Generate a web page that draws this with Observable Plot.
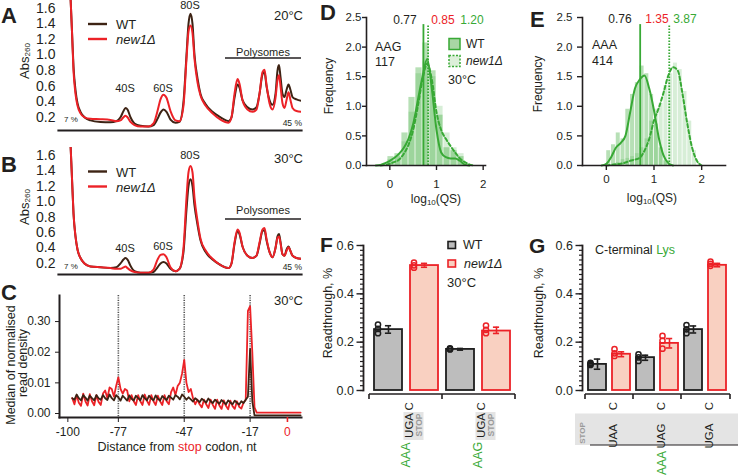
<!DOCTYPE html>
<html><head><meta charset="utf-8">
<script src="https://cdn.jsdelivr.net/npm/d3@7"></script>
<script src="https://cdn.jsdelivr.net/npm/@observablehq/plot@0.6"></script>
<style>
html,body{margin:0;padding:0;background:#fff;}
#fig{position:relative;width:738px;height:476px;overflow:hidden;background:#fff;}
</style></head>
<body><div id="fig"></div>
<script>
// ================= DATA =================
// A/B: polysome profiles, position along gradient (a.u.)
const profilePos = [12,13.5,15,17,19,22,26,32,42,52,58,62,65,67,69,72,76,82,90,95,99,102,105,108,112,117,121,125,128,130,132,134,136,139,142,147,154,162,170,173,176,179,181,184,189,194,198,201,204,206,208,211,214,217,219,220.5,222,224,226,228,230,232,234,238,243];
const profileTicks = [0.2,0.4,0.6,0.8,1.0,1.2,1.4,1.6];
const aWT = [1.75,1.3,0.85,0.55,0.38,0.27,0.2,0.16,0.14,0.135,
  0.15,0.2,0.28,0.32,0.3,0.2,0.12,0.09,0.08,0.1,
  0.18,0.26,0.3,0.27,0.17,0.13,0.14,0.4,1.0,1.4,
  1.53,1.4,1.0,0.7,0.5,0.37,0.27,0.2,0.15,0.2,
  0.45,0.62,0.58,0.42,0.33,0.3,0.33,0.5,0.75,0.78,
  0.6,0.42,0.36,0.5,0.8,0.87,0.72,0.5,0.46,0.55,
  0.62,0.55,0.46,0.43,0.41];
const aNew = [1.75,1.3,0.8,0.5,0.35,0.25,0.2,0.18,0.175,0.165,
  0.15,0.16,0.2,0.22,0.2,0.14,0.1,0.08,0.08,0.12,
  0.28,0.43,0.49,0.45,0.28,0.16,0.15,0.35,0.95,1.3,
  1.38,1.28,0.95,0.65,0.48,0.35,0.25,0.17,0.13,0.2,
  0.5,0.69,0.63,0.42,0.3,0.27,0.3,0.5,0.78,0.81,
  0.62,0.38,0.3,0.45,0.68,0.74,0.6,0.38,0.32,0.42,
  0.52,0.42,0.32,0.28,0.27];
const bWT = [1.75,1.3,0.85,0.55,0.38,0.27,0.2,0.16,0.15,0.14,
  0.15,0.2,0.25,0.27,0.25,0.17,0.1,0.08,0.08,0.09,
  0.15,0.2,0.22,0.2,0.13,0.1,0.13,0.35,0.9,1.2,
  1.29,1.2,0.95,0.7,0.5,0.35,0.25,0.18,0.14,0.2,
  0.45,0.62,0.58,0.42,0.3,0.27,0.3,0.45,0.62,0.63,
  0.5,0.35,0.28,0.4,0.55,0.58,0.48,0.32,0.3,0.38,
  0.42,0.36,0.3,0.27,0.26];
const bNew = [1.75,1.3,0.85,0.55,0.38,0.27,0.2,0.16,0.15,0.14,
  0.13,0.13,0.15,0.16,0.14,0.11,0.09,0.08,0.08,0.12,
  0.25,0.31,0.32,0.28,0.15,0.1,0.13,0.4,1.05,1.38,
  1.46,1.38,1.05,0.75,0.52,0.37,0.26,0.18,0.14,0.2,
  0.47,0.64,0.6,0.42,0.3,0.27,0.3,0.47,0.64,0.66,
  0.52,0.35,0.28,0.4,0.53,0.55,0.46,0.32,0.3,0.36,
  0.41,0.36,0.3,0.27,0.26];

// C: metagene, nt from -98 to +6, values in units of 0.001
const cStart = -98, cEnd = 6;
const cWT = [5.0,4.5,6.2,5.0,4.3,6.0,5.2,4.2,5.8,5.0,
  4.3,6.0,5.0,4.5,6.0,5.0,4.4,6.2,5.0,4.3,
  6.0,5.3,4.2,5.8,5.0,4.2,5.9,4.8,4.2,5.8,
  5.0,4.3,6.0,5.0,4.3,5.8,4.9,4.3,5.9,4.8,
  4.2,5.7,5.0,4.4,5.8,5.2,4.5,6.0,5.5,4.6,
  6.2,5.5,4.5,5.3,4.6,3.9,5.0,4.4,3.7,4.8,
  4.2,3.6,4.9,4.0,3.4,4.5,3.8,3.2,4.4,3.7,
  3.0,4.3,3.6,3.0,4.2,3.5,2.9,4.0,3.4,4.5,
  5.5,21.0,4.0,-0.6,-0.6,
  -0.6,-0.6,-0.6,-0.6,-0.6,-0.6,-0.6,-0.6,-0.6,-0.6,
  -0.6,-0.6,-0.6,-0.6,-0.6,-0.6,-0.6,-0.6,-0.6,-0.6];
const cNew = [5.0,3.0,6.0,3.5,2.5,6.5,4.0,2.6,6.3,4.0,
  2.7,6.0,3.8,2.8,6.5,7.5,5.0,8.5,8.0,5.5,
  9.0,11.8,8.0,6.5,8.0,7.5,4.0,6.0,4.0,2.8,
  6.0,4.0,2.8,6.2,4.2,2.8,6.0,4.0,2.8,5.8,
  4.0,2.8,6.0,4.0,3.0,7.0,8.5,6.0,9.0,10.0,
  13.0,17.5,10.0,7.0,8.0,5.0,3.0,4.5,3.0,2.0,
  4.5,3.0,1.8,4.5,2.8,1.5,4.5,2.6,1.5,4.3,
  2.5,1.4,4.2,2.4,1.5,4.0,2.2,1.6,3.5,4.5,
  33.5,35.0,20.0,2.0,0.3,
  0.3,0.3,0.3,0.3,0.3,0.3,0.3,0.3,0.3,0.3,
  0.3,0.3,0.3,0.3,0.3,0.3,0.3,0.3,0.3,0.3];
const cMarkers = [-77, -47, -17];
const cXTicks = [-100, -77, -47, -17];
const cYTicks = [0, 0.01, 0.02, 0.03];
const cYTickLabels = ["0.00", "0.01", "0.02", "0.30"];

// D: AAG, histogram + density of log10(QS)
const dBinStart = [-0.05,0.10,0.25,0.40,0.55,0.70,0.85,1.00,1.15,1.30,1.45];
const dBinWidth = 0.15;
const dHistWT  = [0.15,0.20,0.55,1.15,1.65,2.07,1.60,0.85,0.30,0.25,0.15];
const dHistNew = [0.10,0.15,0.40,0.90,1.55,1.75,1.50,1.00,0.55,0.30,0.20];
const dWTx = [-0.3,-0.2,-0.1,0,0.1,0.2,0.3,0.4,0.5,0.6,0.7,0.8,0.9,1.0,1.1,1.2,1.3,1.4,1.5,1.6,1.7];
const dWTy = [0,0.01,0.04,0.08,0.13,0.2,0.3,0.45,0.7,1.1,1.5,1.8,1.3,0.6,0.22,0.14,0.12,0.12,0.08,0.02,0];
const dNewx = [-0.2,-0.1,0,0.1,0.2,0.3,0.4,0.5,0.6,0.7,0.8,0.9,1.0,1.1,1.2,1.3,1.4,1.5,1.6,1.7,1.8];
const dNewy = [0,0.01,0.03,0.06,0.1,0.2,0.35,0.6,1.0,1.45,1.72,1.45,0.9,0.6,0.45,0.33,0.22,0.12,0.06,0.02,0];
const dMedians = [0.72, 0.82];
const dLabels = ["0.77", "0.85", "1.20"];

// E: AAA
const eBinWidth = 0.1;
const eBinStartWT = [0.0,0.1,0.2,0.3,0.4,0.5,0.6,0.7,0.8,0.9,1.0,1.1,1.2];
const eHistWT = [0.25,0.35,0.55,0.45,0.95,1.2,1.4,1.68,1.55,1.2,0.7,0.3,0.08];
const eBinStartNew = [0.2,0.3,0.4,0.5,0.6,0.7,0.8,0.9,1.0,1.1,1.2,1.3,1.4,1.5,1.6,1.7,1.8];
const eHistNew = [0.05,0.1,0.12,0.15,0.2,0.3,0.45,0.75,0.95,1.05,1.35,1.55,1.73,1.62,1.25,0.75,0.25];
const eWTx = [-0.1,0,0.1,0.2,0.3,0.4,0.5,0.6,0.7,0.8,0.9,1.0,1.1,1.2,1.3,1.4];
const eWTy = [0,0.03,0.14,0.3,0.38,0.5,0.9,1.3,1.45,1.52,1.3,0.93,0.47,0.17,0.04,0];
const eNewx = [0,0.1,0.2,0.3,0.4,0.5,0.6,0.7,0.8,0.9,1.0,1.1,1.2,1.3,1.4,1.5,1.6,1.7,1.8,1.9,2.0];
const eNewy = [0,0.01,0.02,0.03,0.05,0.08,0.1,0.13,0.25,0.45,0.76,0.97,1.23,1.52,1.66,1.6,1.2,0.7,0.3,0.08,0];
const eMedians = [0.71, 1.32];
const eLabels = ["0.76", "1.35", "3.87"];
const qsXTicks = [0, 1, 2];
const qsYTicks = [0, 0.5, 1, 1.5, 2, 2.5];

// F: readthrough, UGA C stop context
const fGroups = ["AAA", "AAG"];
const fWTMean = [0.252, 0.170];
const fNewMean = [0.517, 0.246];
const fWTErr = [[0.237,0.268],[0.167,0.174]];
const fNewErr = [[0.510,0.526],[0.236,0.262]];
const fWTPts = [[0.273,0.255,0.237],[0.174,0.172,0.170]];
const fNewPts = [[0.529,0.518,0.508],[0.269,0.251,0.237]];

// G: C-terminal Lys (AAA), different stops
const gGroups = ["UAA", "UAG", "UGA"];
const gWTMean = [0.108, 0.136, 0.252];
const gNewMean = [0.150, 0.195, 0.518];
const gWTErr = [[0.088,0.130],[0.125,0.146],[0.238,0.267]];
const gNewErr = [[0.140,0.160],[0.176,0.215],[0.512,0.526]];
const gWTPts = [[0.114,0.110,0.106],[0.150,0.137,0.122],[0.271,0.253,0.237]];
const gNewPts = [[0.171,0.154,0.143],[0.226,0.206,0.173],[0.533,0.524,0.516]];
const barMajorTicks = [0, 0.2, 0.4, 0.6];

// ================= STYLE =================
const FONT = "'Liberation Sans', Arial, Helvetica, sans-serif";
const INK = "#231f20";
const WTC = "#3d2314";
const RED = "#ec2227";
const GREEN = "#38a935";
const GRAYBAR = "#bdbdbd";
const PEACH = "#f9d0c1";
const baseStyle = {fontFamily: FONT, fontSize: "12px", color: INK, background: "transparent", overflow: "visible"};

const fig = document.getElementById("fig");
fig.style.fontFamily = FONT;
function place(node, left, top) {
  node.style.position = "absolute";
  node.style.left = left + "px";
  node.style.top = top + "px";
  fig.appendChild(node);
  return node;
}
function T(sel, x, y, parts, o = {}) {
  const t = sel.append("text").attr("x", x).attr("y", y)
    .attr("font-family", FONT)
    .attr("font-size", o.size || 12).attr("fill", o.fill || INK)
    .attr("text-anchor", o.anchor || "start")
    .attr("dominant-baseline", o.base || "central");
  if (o.bold) t.attr("font-weight", "bold");
  if (o.italic) t.attr("font-style", "italic");
  if (o.rotate) t.attr("transform", `rotate(${o.rotate} ${x} ${y})`);
  if (typeof parts === "string") parts = [{t: parts}];
  for (const p of parts) {
    const s = t.append("tspan").text(p.t);
    if (p.fill) s.attr("fill", p.fill);
    if (p.italic) s.attr("font-style", "italic");
    if (p.size) s.attr("font-size", p.size);
    if (p.dy) s.attr("dy", p.dy);
  }
  return t;
}

// ================= A & B =================
function profile(wt, nw, top, yDomain, mTop, mBottom) {
  const rows = profilePos.map((p, i) => ({p, wt: wt[i], nw: nw[i]}));
  const svg = Plot.plot({
    width: 320, height: 140, marginLeft: 58, marginRight: 19, marginTop: mTop, marginBottom: mBottom,
    style: {...baseStyle, fontSize: "14px"},
    x: {domain: [0, 243], axis: null},
    y: {domain: yDomain, ticks: profileTicks, tickSize: 0, tickPadding: 3, tickFormat: d3.format(".1f"), label: null},
    marks: [
      Plot.line(rows, {x: "p", y: "wt", stroke: WTC, strokeWidth: 2, curve: "monotone-x", clip: true}),
      Plot.line(rows, {x: "p", y: "nw", stroke: RED, strokeWidth: 2, curve: "monotone-x", clip: true}),
      Plot.frame({anchor: "bottom", stroke: INK, strokeWidth: 2.2})
    ]
  });
  place(svg, 0, top);
}
profile(aWT, aNew, 0, [0.03, 1.7], 0, 10);
profile(bWT, bNew, 140, [0.057, 1.7], 7, 6);

// ================= C =================
{
  const rows = d3.range(cStart, cEnd + 1).map((p, i) => ({p, wt: cWT[i] / 1000, nw: cNew[i] / 1000}));
  const svg = Plot.plot({
    width: 320, height: 196, marginLeft: 59, marginRight: 19, marginTop: 15, marginBottom: 59,
    style: {...baseStyle, fontSize: "12px"},
    x: {domain: [-103.8, 6.4], label: null},
    y: {domain: [-0.0013, 0.0385], label: null},
    marks: [
      Plot.ruleX(cMarkers, {stroke: "#555", strokeWidth: 1.6, strokeDasharray: "1.2,1.2"}),
      Plot.line(rows, {x: "p", y: "nw", stroke: RED, strokeWidth: 1.8}),
      Plot.line(rows, {x: "p", y: "wt", stroke: WTC, strokeWidth: 1.8}),
      Plot.frame({anchor: "left", stroke: INK, strokeWidth: 2}),
      Plot.frame({anchor: "bottom", stroke: INK, strokeWidth: 2}),
      Plot.axisY({ticks: cYTicks, tickFormat: d => cYTickLabels[cYTicks.indexOf(d)], tickSize: 4, tickPadding: 5, label: null}),
      Plot.axisX({ticks: cXTicks, tickSize: 5, tickPadding: 5, label: null, tickFormat: d => String(d)}),
      Plot.axisX({ticks: [0], tickSize: 5, tickPadding: 5, label: null, stroke: RED, fill: RED, strokeWidth: 1.6, tickFormat: d => String(d)})
    ]
  });
  place(svg, 0, 280);
}

// ================= D & E =================
function qsPanel(cfg) {
  const {left, width, marginLeft, marginRight, xDomain, histWT, histNew, kWT, kNew, medians, tickPad, yTickPad, yTickSize} = cfg;
  const svg = Plot.plot({
    width, height: 220, marginLeft, marginRight, marginTop: 17, marginBottom: 55,
    style: {...baseStyle, fontSize: "11.5px"},
    x: {domain: xDomain, label: null},
    y: {domain: [0, 2.5], label: null},
    marks: [
      Plot.rectY(histNew, {x1: "x1", x2: "x2", y1: 0, y2: "h", fill: GREEN, fillOpacity: 0.2, insetLeft: 0.4, insetRight: 0.4}),
      Plot.rectY(histWT, {x1: "x1", x2: "x2", y1: 0, y2: "h", fill: GREEN, fillOpacity: 0.36, insetLeft: 0.4, insetRight: 0.4}),
      Plot.ruleX([medians[0]], {y1: 0, y2: 2.38, stroke: GREEN, strokeWidth: 1.8}),
      Plot.ruleX([medians[1]], {y1: 0, y2: 2.38, stroke: GREEN, strokeWidth: 1.8, strokeDasharray: "1.5,1.5"}),
      Plot.line(kNew, {x: "x", y: "y", stroke: GREEN, strokeWidth: 2, strokeDasharray: "3.5,2.5", curve: "monotone-x"}),
      Plot.line(kWT, {x: "x", y: "y", stroke: GREEN, strokeWidth: 2, curve: "monotone-x"}),
      Plot.frame({anchor: "left", stroke: INK, strokeWidth: 1.6}),
      Plot.frame({anchor: "bottom", stroke: INK, strokeWidth: 1.6}),
      Plot.axisY({ticks: qsYTicks, tickFormat: d3.format(".1f"), tickSize: yTickSize, tickPadding: yTickPad, label: null, strokeWidth: 1.4}),
      Plot.axisX({ticks: qsXTicks, tickFormat: d3.format("d"), tickSize: 5, tickPadding: tickPad, label: null, strokeWidth: 1.4})
    ]
  });
  place(svg, left, 0);
}
const toHist = (starts, w, hs) => starts.map((s, i) => ({x1: s, x2: s + w, h: hs[i]}));
const toXY = (xs, ys) => xs.map((x, i) => ({x, y: ys[i]}));
qsPanel({left: 320, width: 210, marginLeft: 46, marginRight: 45, xDomain: [-0.5, 2.05],
  histWT: toHist(dBinStart, dBinWidth, dHistWT), histNew: toHist(dBinStart, dBinWidth, dHistNew),
  kWT: toXY(dWTx, dWTy), kNew: toXY(dNewx, dNewy), medians: dMedians, tickPad: 9, yTickPad: 1, yTickSize: 4});
qsPanel({left: 530, width: 208, marginLeft: 52, marginRight: 13, xDomain: [-0.5, 2.5],
  histWT: toHist(eBinStartWT, eBinWidth, eHistWT), histNew: toHist(eBinStartNew, eBinWidth, eHistNew),
  kWT: toXY(eWTx, eWTy), kNew: toXY(eNewx, eNewy), medians: eMedians, tickPad: 4, yTickPad: 5, yTickSize: 5});

// ================= F & G =================
function barPanel(cfg) {
  const {groups, left, width, marginLeft, insetLeft, marginRight, pad, dotDx} = cfg;
  const strains = [
    {id: "WT", mean: cfg.wtMean, err: cfg.wtErr, pts: cfg.wtPts, fill: GRAYBAR, stroke: "#1e1e1e"},
    {id: "new1", mean: cfg.newMean, err: cfg.newErr, pts: cfg.newPts, fill: PEACH, stroke: RED}
  ];
  const keys = groups.flatMap(g => strains.map(s => g + "|" + s.id));
  const rangeW = width - marginLeft - insetLeft - marginRight;
  const step = rangeW / keys.length;
  const bw = step * (1 - pad);
  const capInset = Math.max(0, (bw - 7) / 2);
  const marks = [];
  for (const s of strains) {
    const bars = groups.map((g, i) => ({key: g + "|" + s.id, v: s.mean[i], lo: s.err[i][0], hi: s.err[i][1]}));
    const dots = groups.flatMap((g, i) => s.pts[i].map(v => ({key: g + "|" + s.id, v})));
    marks.push(
      Plot.barY(bars, {x: "key", y: "v", fill: s.fill, stroke: s.stroke, strokeWidth: 1.8}),
      Plot.ruleX(bars, {x: "key", y1: "lo", y2: "hi", stroke: s.stroke, strokeWidth: 1.6}),
      Plot.tickY(bars, {x: "key", y: "lo", stroke: s.stroke, strokeWidth: 1.6, insetLeft: capInset, insetRight: capInset}),
      Plot.tickY(bars, {x: "key", y: "hi", stroke: s.stroke, strokeWidth: 1.6, insetLeft: capInset, insetRight: capInset}),
      Plot.dot(dots, {x: "key", y: "v", r: 2.6, stroke: s.stroke, strokeWidth: 1.5, fill: "none", dx: dotDx})
    );
  }
  marks.push(
    Plot.frame({anchor: "left", stroke: INK, strokeWidth: 1.8}),
    Plot.axisY({ticks: d3.range(0, 0.6001, 0.02), tickSize: 3, tickFormat: () => "", strokeWidth: 1.2, label: null}),
    Plot.axisY({ticks: barMajorTicks, tickSize: 6.5, tickPadding: 3, tickFormat: d3.format(".1f"), label: null, strokeWidth: 1.4})
  );
  const svg = Plot.plot({
    width, height: 246, marginLeft, marginRight, marginTop: 15, marginBottom: 86, insetLeft,
    style: {...baseStyle, fontSize: "12.5px"},
    x: {domain: keys, paddingInner: pad, paddingOuter: pad / 2, axis: null},
    y: {domain: [0, 0.6], label: null},
    marks
  });
  place(svg, left, 230);
  // detached category axis, drawn from the plot's own scales
  const x = svg.scale("x"), y = svg.scale("y");
  const sel = d3.select(svg).append("g");
  const [r0, r1] = x.range;
  const y0 = y.apply(0) + 4;
  const bwd = x.bandwidth;
  const bounds = [r0];
  for (let i = 1; i < groups.length; i++) {
    const a = x.apply(groups[i - 1] + "|new1") + bwd, b = x.apply(groups[i] + "|WT");
    bounds.push((a + b) / 2);
  }
  bounds.push(r1);
  const centers = groups.map(g => (x.apply(g + "|WT") + x.apply(g + "|new1") + bwd) / 2);
  return {svg, sel, r0, r1, y0, bounds, centers};
}
function drawAxisLine(p) {
  p.sel.append("line").attr("x1", p.r0).attr("x2", p.r1).attr("y1", p.y0).attr("y2", p.y0)
    .attr("stroke", INK).attr("stroke-width", 1.6);
  for (const b of p.bounds) p.sel.append("line").attr("x1", b).attr("x2", b).attr("y1", p.y0).attr("y2", p.y0 + 5)
    .attr("stroke", INK).attr("stroke-width", 1.6);
}

const F = barPanel({groups: fGroups, left: 320, width: 210, marginLeft: 43, insetLeft: 6, marginRight: 15, pad: 0.21, dotDx: -10.5,
  wtMean: fWTMean, newMean: fNewMean, wtErr: fWTErr, newErr: fNewErr, wtPts: fWTPts, newPts: fNewPts});
drawAxisLine(F);
F.centers.forEach((gc, i) => {
  F.sel.append("rect").attr("x", gc - 2.5).attr("y", 182).attr("width", 20).attr("height", 28).attr("fill", "#e4e4e4");
  T(F.sel, gc + 2.5, 190, "UGA C", {size: 11.5, anchor: "middle", rotate: -90});
  T(F.sel, gc + 12.5, 195, "STOP", {size: 8.5, anchor: "middle", rotate: -90, fill: "#9b9b9b", bold: true});
  T(F.sel, gc, 225, fGroups[i], {size: 12.5, anchor: "middle", rotate: -90, fill: GREEN});
});

const G = barPanel({groups: gGroups, left: 530, width: 208, marginLeft: 52, insetLeft: 3, marginRight: 8, pad: 0.23, dotDx: -7,
  wtMean: gWTMean, newMean: gNewMean, wtErr: gWTErr, newErr: gNewErr, wtPts: gWTPts, newPts: gNewPts});
G.sel.insert("rect", ":first-child").attr("x", G.r0 - 10).attr("y", 183.5).attr("width", 208 - (G.r0 - 10)).attr("height", 31.5).attr("fill", "#e4e4e4");
drawAxisLine(G);
G.sel.append("line").attr("x1", G.r0 + 5).attr("x2", 208).attr("y1", 215).attr("y2", 215).attr("stroke", INK).attr("stroke-width", 1.2);
T(G.sel, G.r0 - 3.3, 203, "STOP", {size: 8, anchor: "middle", rotate: -90, fill: "#9b9b9b", bold: true});
G.centers.forEach((gc, i) => {
  T(G.sel, gc + 4, 176, "C", {size: 11.5, anchor: "middle", rotate: -90});
  T(G.sel, gc + 4, 206, gGroups[i], {size: 11.5, anchor: "middle", rotate: -90});
});
T(G.sel, G.centers[1] + 5, 233, "AAA", {size: 12, anchor: "middle", rotate: -90, fill: GREEN});

// ================= OVERLAY TEXT =================
const ov = d3.create("svg").attr("width", 738).attr("height", 476)
  .style("position", "absolute").style("left", "0px").style("top", "0px").style("overflow", "visible");
fig.appendChild(ov.node());

// panel letters
T(ov, 1, 22.5, "A", {size: 22, bold: true, base: "alphabetic"});
T(ov, 1, 171.5, "B", {size: 22, bold: true, base: "alphabetic"});
T(ov, 1, 299.5, "C", {size: 22, bold: true, base: "alphabetic"});
T(ov, 320, 20, "D", {size: 22, bold: true, base: "alphabetic"});
T(ov, 530, 26.5, "E", {size: 22, bold: true, base: "alphabetic"});
T(ov, 320, 252, "F", {size: 21, bold: true, base: "alphabetic"});
T(ov, 529, 252.5, "G", {size: 21, bold: true, base: "alphabetic"});

// A & B annotations
function profileAnno(dy, temp, p) {
  T(ov, 303, dy + p.temp, temp, {size: 13, anchor: "end"});
  T(ov, 125, dy + p.s40, "40S", {size: 11, anchor: "middle"});
  T(ov, 163, dy + p.s60, "60S", {size: 11, anchor: "middle"});
  T(ov, 190, dy + p.s80, "80S", {size: 11, anchor: "middle"});
  T(ov, 263, dy + p.poly, "Polysomes", {size: 11, anchor: "middle"});
  ov.append("line").attr("x1", 225).attr("x2", 301).attr("y1", dy + p.polyLine).attr("y2", dy + p.polyLine).attr("stroke", INK).attr("stroke-width", 1.3);
  T(ov, 64, dy + p.lo, "7 %", {size: 8});
  T(ov, 302, dy + p.hi, "45 %", {size: 8.5, anchor: "end"});
  ov.append("line").attr("x1", 88).attr("x2", 107).attr("y1", dy + p.lg1).attr("y2", dy + p.lg1).attr("stroke", WTC).attr("stroke-width", 2.4);
  ov.append("line").attr("x1", 88).attr("x2", 107).attr("y1", dy + p.lg2).attr("y2", dy + p.lg2).attr("stroke", RED).attr("stroke-width", 2.4);
  T(ov, 116, dy + p.lg1, "WT", {size: 13});
  T(ov, 116, dy + p.lg2, "new1Δ", {size: 13, italic: true});
  T(ov, 24, dy + p.lab, [{t: "Abs"}, {t: "260", size: 8, dy: 3}], {size: 13, anchor: "middle", rotate: -90});
}
profileAnno(0, "20°C", {temp: 15, s40: 88, s60: 88, s80: 5, poly: 52, polyLine: 58, lo: 119, hi: 123, lg1: 24, lg2: 39, lab: 61});
profileAnno(140, "30°C", {temp: 18, s40: 108, s60: 106, s80: 15, poly: 70, polyLine: 79, lo: 126, hi: 127, lg1: 31.5, lg2: 46.5, lab: 67});

// C annotations
T(ov, 303, 300, "30°C", {size: 13, anchor: "end"});
T(ov, 11, 365, "Median of normalised", {size: 12.5, anchor: "middle", rotate: -90});
T(ov, 23, 363, "read density", {size: 12.5, anchor: "middle", rotate: -90});
T(ov, 177, 447, [{t: "Distance from "}, {t: "stop", fill: RED}, {t: " codon, nt"}], {size: 12.5, anchor: "middle"});

// D annotations
T(ov, 405, 20, dLabels[0], {size: 12, anchor: "middle"});
T(ov, 443, 20, dLabels[1], {size: 12, anchor: "middle", fill: RED});
T(ov, 472, 20, dLabels[2], {size: 12, anchor: "middle", fill: GREEN});
T(ov, 375, 47, "AAG", {size: 12.5});
T(ov, 375, 62, "117", {size: 12.5});
ov.append("rect").attr("x", 449).attr("y", 38.5).attr("width", 11).attr("height", 11).attr("fill", "#a9d6a5").attr("stroke", GREEN).attr("stroke-width", 1.5);
ov.append("rect").attr("x", 449).attr("y", 55.5).attr("width", 11).attr("height", 11).attr("fill", "#dcefd9").attr("stroke", GREEN).attr("stroke-width", 1.5).attr("stroke-dasharray", "2,1.5");
T(ov, 466, 44, "WT", {size: 12});
T(ov, 466, 61, "new1Δ", {size: 12, italic: true});
T(ov, 448, 80, "30°C", {size: 12.5});
T(ov, 329, 86, "Frequency", {size: 12, anchor: "middle", rotate: -90});
T(ov, 436, 199, [{t: "log"}, {t: "10", size: 8, dy: 3}, {t: "(QS)", dy: -3}], {size: 12, anchor: "middle"});

// E annotations
T(ov, 620, 19, eLabels[0], {size: 12, anchor: "middle"});
T(ov, 657, 19, eLabels[1], {size: 12, anchor: "middle", fill: RED});
T(ov, 685, 19, eLabels[2], {size: 12, anchor: "middle", fill: GREEN});
T(ov, 592, 45, "AAA", {size: 12.5});
T(ov, 592, 61, "414", {size: 12.5});
T(ov, 538, 84, "Frequency", {size: 12, anchor: "middle", rotate: -90});
T(ov, 652, 198, [{t: "log"}, {t: "10", size: 8, dy: 3}, {t: "(QS)", dy: -3}], {size: 12, anchor: "middle"});

// F annotations
ov.append("rect").attr("x", 448).attr("y", 241.5).attr("width", 7.5).attr("height", 7).attr("fill", GRAYBAR).attr("stroke", "#1e1e1e").attr("stroke-width", 1.6);
ov.append("rect").attr("x", 448).attr("y", 260).attr("width", 7.5).attr("height", 7).attr("fill", PEACH).attr("stroke", RED).attr("stroke-width", 1.6);
T(ov, 463, 245, "WT", {size: 12.5});
T(ov, 464, 263.5, "new1Δ", {size: 12.5, italic: true});
T(ov, 447, 282, "30°C", {size: 13});
T(ov, 328, 313, "Readthrough, %", {size: 12.5, anchor: "middle", rotate: -90});

// G annotations
T(ov, 595, 250, [{t: "C-terminal "}, {t: "Lys", fill: GREEN}], {size: 12.5});
T(ov, 539, 313, "Readthrough, %", {size: 12.5, anchor: "middle", rotate: -90});
</script>
</body></html>
